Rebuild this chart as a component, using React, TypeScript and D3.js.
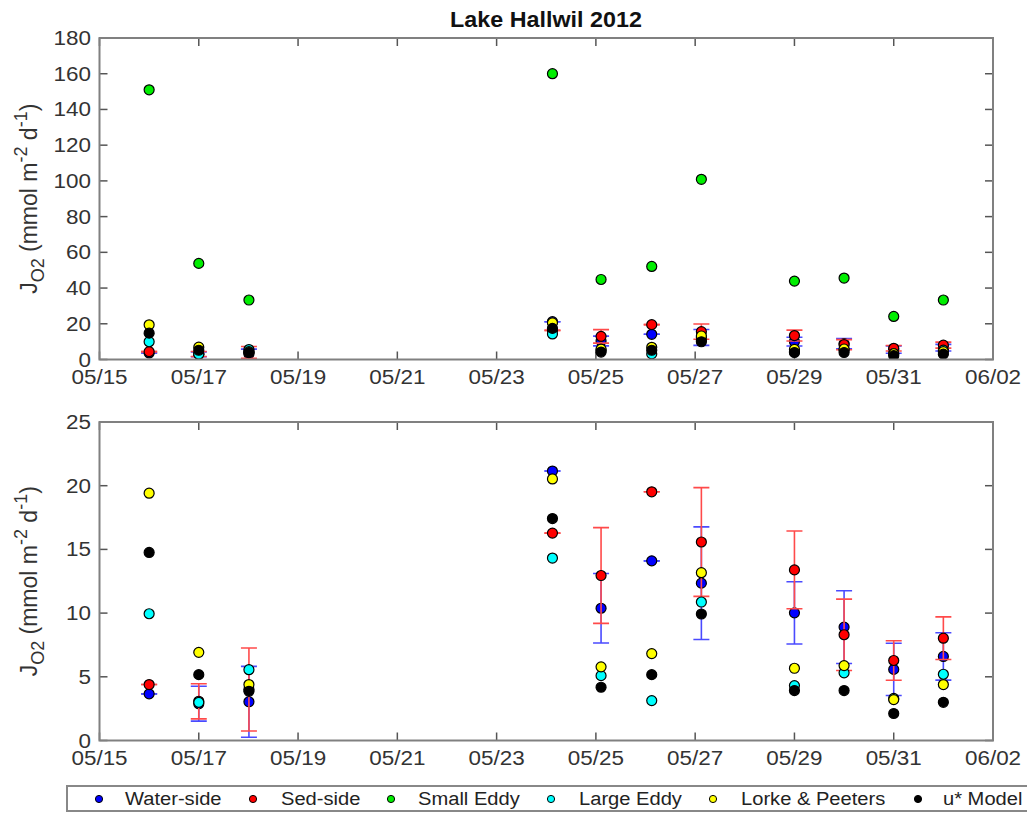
import React from "react";
import * as d3 from "d3";

// Sampling times (local time) of each flux estimate
const sampleTimes = [
  "2012-05-16T00:00",
  "2012-05-17T00:00",
  "2012-05-18T00:15",
  "2012-05-24T03:00",
  "2012-05-25T02:30",
  "2012-05-26T03:00",
  "2012-05-27T03:00",
  "2012-05-29T00:00",
  "2012-05-30T00:00",
  "2012-05-31T00:00",
  "2012-06-01T00:00",
];

// Oxygen fluxes J_O2 in mmol m^-2 d^-1
const waterSide = [3.66, 2.89, 3.04, 21.15, 10.38, 14.1, 12.35, 10.02, 8.9, 5.58, 6.6];
const waterSideErr = [0, 1.37, 2.78, 0, 2.73, 0, 4.42, 2.44, 2.86, 2.05, 1.86];
const sedSide = [4.39, 3.08, 4.0, 16.28, 12.95, 19.52, 15.58, 13.39, 8.3, 6.28, 8.03];
const sedSideErr = [0, 1.38, 3.26, 0, 3.76, 0, 4.27, 3.05, 2.8, 1.55, 1.67];
const smallEddy = [151.0, 53.8, 33.3, 160.0, 44.8, 52.1, 100.9, 43.9, 45.6, 24.1, 33.3];
const largeEddy = [9.95, 3.0, 5.56, 14.32, 5.09, 3.13, 10.87, 4.31, 5.31, 3.3, 5.2];
const lorkePeeters = [19.41, 6.92, 4.39, 20.53, 5.78, 6.82, 13.17, 5.67, 5.88, 3.21, 4.39];
const uStarModel = [14.76, 5.17, 3.86, 17.42, 4.18, 5.17, 9.93, 3.92, 3.92, 2.12, 3.0];

const seriesNames = ["Water-side", "Sed-side", "Small Eddy", "Large Eddy", "Lorke & Peeters", "u* Model"];
const seriesColors = ["#0000ff", "#ff0000", "#00ee00", "#00ffff", "#ffff00", "#000000"];

const xTickDates = [
  "2012-05-15", "2012-05-17", "2012-05-19", "2012-05-21", "2012-05-23",
  "2012-05-25", "2012-05-27", "2012-05-29", "2012-05-31", "2012-06-02",
];
const topYTicks = [0, 20, 40, 60, 80, 100, 120, 140, 160, 180];
const bottomYTicks = [0, 5, 10, 15, 20, 25];

const W = 1027;
const H = 813;
const LEFT = 99.5;
const RIGHT = 993;
const FONT = "'Liberation Sans', Arial, Helvetica, sans-serif";
const STRETCH = 1.07;

const toDate = (s: string) => new Date(s.length > 10 ? s : s + "T00:00");

const x = d3
  .scaleTime()
  .domain([toDate("2012-05-15"), toDate("2012-06-02")])
  .range([LEFT, RIGHT]);
const fmt = d3.timeFormat("%m/%d");

type Series = {
  name: string;
  color: string;
  values: number[];
  err?: number[];
  errColor?: string;
  inZoom: boolean;
};

const series: Series[] = [
  { name: seriesNames[0], color: seriesColors[0], values: waterSide, err: waterSideErr, errColor: "#4a4aff", inZoom: true },
  { name: seriesNames[1], color: seriesColors[1], values: sedSide, err: sedSideErr, errColor: "#ff4a4a", inZoom: true },
  { name: seriesNames[2], color: seriesColors[2], values: smallEddy, inZoom: false },
  { name: seriesNames[3], color: seriesColors[3], values: largeEddy, inZoom: true },
  { name: seriesNames[4], color: seriesColors[4], values: lorkePeeters, inZoom: true },
  { name: seriesNames[5], color: seriesColors[5], values: uStarModel, inZoom: true },
];

function YLabel({ cy }: { cy: number }) {
  return (
    <text
      transform={`translate(37,${cy}) rotate(-90)`}
      textAnchor="middle"
      fontFamily={FONT}
      fontSize={23}
      fill="#333"
    >
      <tspan>J</tspan>
      <tspan fontSize={18} dy={7}>O2</tspan>
      <tspan dy={-7}> (mmol m</tspan>
      <tspan fontSize={18} dy={-10}>-2</tspan>
      <tspan dy={10}> d</tspan>
      <tspan fontSize={18} dy={-10}>-1</tspan>
      <tspan dy={10}>)</tspan>
    </text>
  );
}

function Panel({
  id,
  top,
  bottom,
  yMax,
  yTicks,
  zoomed,
}: {
  id: string;
  top: number;
  bottom: number;
  yMax: number;
  yTicks: number[];
  zoomed: boolean;
}) {
  const y = d3.scaleLinear().domain([0, yMax]).range([bottom, top]);
  const tickLen = 8;
  const capHalf = 8;
  const times = sampleTimes.map(toDate);
  const shown = series.filter((s) => !zoomed || s.inZoom);
  return (
    <g>
      <defs>
        <clipPath id={id}>
          <rect x={LEFT} y={top} width={RIGHT - LEFT} height={bottom - top} />
        </clipPath>
      </defs>
      <rect x={LEFT} y={top} width={RIGHT - LEFT} height={bottom - top} fill="white" stroke="none" />
      {/* ticks on all four sides, pointing inward */}
      {xTickDates.map((d) => {
        const px = x(toDate(d));
        return (
          <g key={d}>
            <line x1={px} x2={px} y1={bottom} y2={bottom - tickLen} stroke="#555" strokeWidth={1.5} />
            <line x1={px} x2={px} y1={top} y2={top + tickLen} stroke="#555" strokeWidth={1.5} />
            <text
              transform={`translate(${px},${bottom + 24}) scale(${STRETCH},1)`}
              textAnchor="middle"
              fontFamily={FONT}
              fontSize={21}
              fill="#333"
            >
              {fmt(toDate(d))}
            </text>
          </g>
        );
      })}
      {yTicks.map((v) => {
        const py = y(v);
        return (
          <g key={v}>
            <line x1={LEFT} x2={LEFT + tickLen} y1={py} y2={py} stroke="#555" strokeWidth={1.5} />
            <line x1={RIGHT} x2={RIGHT - tickLen} y1={py} y2={py} stroke="#555" strokeWidth={1.5} />
            <text
              transform={`translate(91,${py + 7}) scale(${STRETCH},1)`}
              textAnchor="end"
              fontFamily={FONT}
              fontSize={21}
              fill="#333"
            >
              {v}
            </text>
          </g>
        );
      })}
      {/* data: error bars with their markers, then the other estimates */}
      <g clipPath={`url(#${id})`}>
        {shown.map((s) => (
          <g key={s.name}>
            {s.err &&
              s.values.map((v, i) => {
                const px = x(times[i]);
                const lo = y(v - s.err![i]);
                const hi = y(v + s.err![i]);
                return (
                  <g key={i} stroke={s.errColor} strokeWidth={1.6}>
                    <line x1={px} x2={px} y1={lo} y2={hi} />
                    <line x1={px - capHalf} x2={px + capHalf} y1={lo} y2={lo} />
                    <line x1={px - capHalf} x2={px + capHalf} y1={hi} y2={hi} />
                  </g>
                );
              })}
            {s.values.map((v, i) => (
              <circle key={i} cx={x(times[i])} cy={y(v)} r={5} fill={s.color} stroke="#000" strokeWidth={1.2} />
            ))}
          </g>
        ))}
      </g>
      <rect x={LEFT} y={top} width={RIGHT - LEFT} height={bottom - top} fill="none" stroke="#808080" strokeWidth={2} />
      <YLabel cy={(top + bottom) / 2} />
    </g>
  );
}

const legendDotX = [99, 253, 391, 551, 713, 918];
const legendTextX = [125, 281, 418, 579, 741, 943];

export default function App() {
  return (
    <svg
      width={W}
      height={H}
      style={{ position: "absolute", left: 0, top: 0, display: "block", background: "white" }}
    >
      <rect x={0} y={0} width={W} height={H} fill="white" />
      <text
        transform={`translate(546,27) scale(1.06,1)`}
        textAnchor="middle"
        fontFamily={FONT}
        fontWeight="bold"
        fontSize={22}
        fill="#111"
      >
        Lake Hallwil 2012
      </text>
      <Panel id="clip-full" top={38} bottom={359.5} yMax={180} yTicks={topYTicks} zoomed={false} />
      <Panel id="clip-zoom" top={422} bottom={740.5} yMax={25} yTicks={bottomYTicks} zoomed={true} />
      <g>
        <rect x={67} y={786} width={990} height={25} fill="white" stroke="#888" strokeWidth={2} />
        {series.map((s, i) => (
          <g key={s.name}>
            <circle cx={legendDotX[i]} cy={799} r={3.6} fill={s.color} stroke="#000" strokeWidth={1} />
            <text
              transform={`translate(${legendTextX[i]},805) scale(1.06,1)`}
              fontFamily={FONT}
              fontSize={19}
              fill="#222"
            >
              {s.name}
            </text>
          </g>
        ))}
      </g>
    </svg>
  );
}
